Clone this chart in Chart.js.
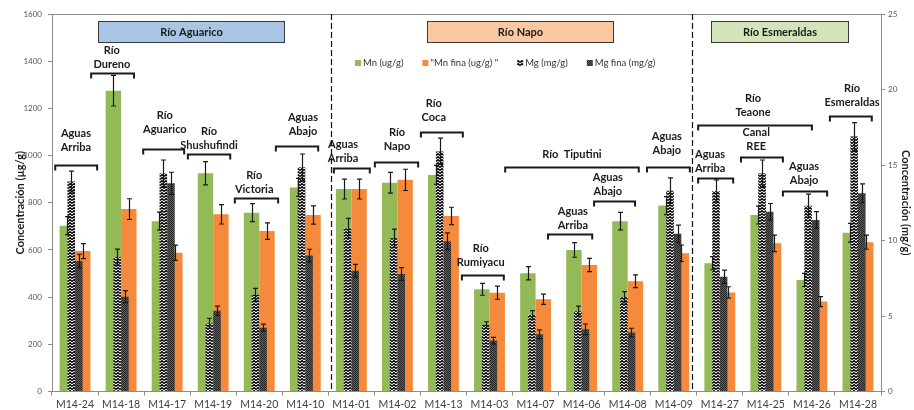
<!DOCTYPE html>
<html>
<head>
<meta charset="utf-8">
<script src="https://cdn.jsdelivr.net/npm/chart.js@4"></script>
<style>
  html, body { margin: 0; padding: 0; background: #fff; }
  #wrap { width: 914px; height: 410px; position: relative; }
</style>
</head>
<body>
<div id="wrap"><canvas id="chart"></canvas></div>
<script>
// Mn / Mg concentrations per sampling point, with error bars

const labels = ["M14-24", "M14-18", "M14-17", "M14-19", "M14-20", "M14-10", "M14-01", "M14-02", "M14-13",
  "M14-03", "M14-07", "M14-06", "M14-08", "M14-09", "M14-27", "M14-25", "M14-26", "M14-28"];

// ug/g (left axis)
const mn         = [703, 1275, 722, 925, 758, 865, 858, 885, 918, 433, 501, 600, 722, 788, 544, 748, 473, 673];
const mnErr      = [38, 65, 38, 49, 38, 38, 42, 44, 40, 25, 28, 31, 37, 38, 28, 38, 28, 40];
const mnFina     = [595, 773, 588, 751, 680, 748, 858, 897, 744, 419, 391, 536, 467, 586, 420, 628, 381, 633];
const mnFinaErr  = [32, 44, 32, 41, 35, 39, 42, 45, 37, 28, 22, 28, 27, 35, 24, 35, 21, 30];

// mg/g (right axis)
const mg         = [13.9, 8.9, 14.45, 4.52, 6.41, 14.85, 10.8, 10.15, 15.9, 4.4, 5.07, 5.33, 6.24, 13.3, 13.28, 14.45, 12.3, 16.88];
const mgErr      = [0.7, 0.53, 0.88, 0.33, 0.42, 0.88, 0.66, 0.6, 0.88, 0.22, 0.29, 0.33, 0.38, 0.85, 0.73, 0.88, 0.77, 0.93];
const mgFina     = [8.64, 6.28, 13.79, 5.35, 4.22, 9.0, 8.0, 7.78, 9.95, 3.37, 3.79, 4.12, 3.9, 10.45, 7.6, 11.9, 11.36, 13.13];
const mgFinaErr  = [0.45, 0.4, 0.73, 0.31, 0.24, 0.42, 0.42, 0.42, 0.55, 0.22, 0.29, 0.35, 0.29, 0.57, 0.44, 0.55, 0.55, 0.62];

const leftTicks = [0, 200, 400, 600, 800, 1000, 1200, 1400, 1600];
const rightTicks = [0, 5, 10, 15, 20, 25];

// ─────────── annotation layout (category index / left-axis units) ───────────
const regions = [
  { text: "Río Aguarico", from: 0.5, to: 4.54, fill: "#a8c5e4" },
  { text: "Río Napo", from: 7.64, to: 11.68, fill: "#fac7a3" },
  { text: "Río Esmeraldas", from: 13.81, to: 16.78, fill: "#d4e4b9" },
];
const separators = [5.56, 13.40];
const brackets = [
  { lines: ["Aguas", "Arriba"], from: -0.43, to: 0.48, y: 960, ty: 1095, tx: 0.02 },
  { lines: ["Río", "Dureno"], from: 0.35, to: 1.28, y: 1350, ty: 1447, tx: 0.8 },
  { lines: ["Río", "Aguarico"], from: 1.48, to: 2.37, y: 1028, ty: 1172, tx: 1.95 },
  { lines: ["Río", "Shushufindi"], from: 2.45, to: 3.37, y: 1006, ty: 1104, tx: 2.91 },
  { lines: ["Río", "Victoria"], from: 3.47, to: 4.41, y: 820, ty: 917, tx: 3.89 },
  { lines: ["Aguas", "Abajo"], from: 4.36, to: 5.28, y: 1040, ty: 1163, tx: 4.95 },
  { lines: ["Aguas", "Arriba"], from: 5.62, to: 6.40, y: 947, ty: 1045, tx: 5.82 },
  { lines: ["Río", "Napo"], from: 6.51, to: 7.45, y: 972, ty: 1096, tx: 6.99 },
  { lines: ["Río", "Coca"], from: 7.51, to: 8.42, y: 1100, ty: 1219, tx: 7.79 },
  { lines: ["Río  Tiputini"], from: 9.34, to: 12.24, y: 951, ty: 1006, tx: 10.79 },
  { lines: ["Aguas", "Abajo"], from: 12.42, to: 13.35, y: 951, ty: 1079, tx: 12.85 },
  { lines: ["Aguas", "Abajo"], from: 11.27, to: 12.16, y: 807, ty: 909, tx: 11.57 },
  { lines: ["Aguas", "Arriba"], from: 10.27, to: 11.23, y: 667, ty: 761, tx: 10.81 },
  { lines: ["Río", "Rumiyacu"], from: 8.40, to: 9.31, y: 494, ty: 608, tx: 8.81 },
  { lines: ["Río", "Teaone"], from: 13.53, to: 16.0, y: 1129, ty: 1244, tx: 14.72 },
  { lines: ["Canal", "REE"], from: 14.46, to: 15.37, y: 993, ty: 1100, tx: 14.79 },
  { lines: ["Aguas", "Arriba"], from: 13.53, to: 14.29, y: 905, ty: 1006, tx: 13.79 },
  { lines: ["Aguas", "Abajo"], from: 15.37, to: 16.33, y: 849, ty: 955, tx: 15.83 },
  { lines: ["Río", "Esmeraldas"], from: 16.39, to: 17.3, y: 1168, ty: 1286, tx: 16.87 },
];

const FONT = "Lato, 'Open Sans', sans-serif";
const GREEN = "#94b957";
const ORANGE = "#f58a3c";

// ─────────── fill patterns ───────────
function zigzag() {
  const c = document.createElement("canvas");
  c.width = 4; c.height = 3;
  const g = c.getContext("2d");
  g.fillStyle = "#fff"; g.fillRect(0, 0, 4, 3);
  g.strokeStyle = "#000"; g.lineWidth = 1.5;
  g.beginPath(); g.moveTo(0, 2.5); g.lineTo(2, 0.7); g.lineTo(4, 2.5); g.stroke();
  return g.createPattern(c, "repeat");
}

function checker() {
  const c = document.createElement("canvas");
  c.width = 2; c.height = 2;
  const g = c.getContext("2d");
  g.fillStyle = "#5e5e5e"; g.fillRect(0, 0, 2, 2);
  g.fillStyle = "#262626"; g.fillRect(0, 0, 1, 1); g.fillRect(1, 1, 1, 1);
  return g.createPattern(c, "repeat");
}

// ─────────── plugins ───────────
const errorBars = {
  id: "errorBars",
  afterDatasetsDraw(chart) {
    const ctx = chart.ctx;
    ctx.save();
    ctx.strokeStyle = "#1a1a1a";
    ctx.lineWidth = 1.2;
    chart.data.datasets.forEach((ds, i) => {
      const meta = chart.getDatasetMeta(i);
      const ys = chart.scales[ds.yAxisID];
      meta.data.forEach((bar, j) => {
        const v = ds.data[j], e = ds.errors[j];
        const x = Math.round(bar.x) + 0.5;
        const y1 = ys.getPixelForValue(v + e), y2 = ys.getPixelForValue(v - e);
        ctx.beginPath();
        ctx.moveTo(x, y1); ctx.lineTo(x, y2);
        ctx.moveTo(x - 2.5, y1); ctx.lineTo(x + 2.5, y1);
        ctx.moveTo(x - 2.5, y2); ctx.lineTo(x + 2.5, y2);
        ctx.stroke();
      });
    });
    ctx.restore();
  },
};

const annotations = {
  id: "annotations",
  afterDatasetsDraw(chart) {
    const { ctx, chartArea } = chart;
    const xs = chart.scales.x, ys = chart.scales.y;
    ctx.save();

    // plot frame top line
    ctx.strokeStyle = "#8c8c8c"; ctx.lineWidth = 1;
    ctx.beginPath();
    ctx.moveTo(chartArea.left, chartArea.top + 0.5); ctx.lineTo(chartArea.right, chartArea.top + 0.5);
    ctx.stroke();

    // dashed separators
    ctx.strokeStyle = "#111"; ctx.lineWidth = 1.2;
    ctx.setLineDash([6, 3]);
    separators.forEach(s => {
      const x = Math.round(xs.getPixelForValue(s)) + 0.5;
      ctx.beginPath(); ctx.moveTo(x, chartArea.top); ctx.lineTo(x, chartArea.bottom); ctx.stroke();
    });
    ctx.setLineDash([]);

    // region boxes
    ctx.textAlign = "center"; ctx.textBaseline = "middle";
    regions.forEach(r => {
      const x1 = Math.round(xs.getPixelForValue(r.from)) + 0.5, x2 = Math.round(xs.getPixelForValue(r.to)) + 0.5;
      const y1 = Math.round(ys.getPixelForValue(1571)) + 0.5, y2 = Math.round(ys.getPixelForValue(1481)) + 0.5;
      ctx.fillStyle = r.fill;
      ctx.fillRect(x1, y1, x2 - x1, y2 - y1);
      ctx.strokeStyle = "#3a3a3a"; ctx.lineWidth = 1;
      ctx.strokeRect(x1, y1, x2 - x1, y2 - y1);
      ctx.fillStyle = "#1a1a1a";
      ctx.font = `bold 11px ${FONT}`;
      ctx.fillText(r.text, (x1 + x2) / 2, (y1 + y2) / 2 + 0.5);
    });

    // brackets + labels
    brackets.forEach(b => {
      const x1 = xs.getPixelForValue(b.from), x2 = xs.getPixelForValue(b.to);
      const y = Math.round(ys.getPixelForValue(b.y)) + 0.5;
      ctx.strokeStyle = "#1a1a1a"; ctx.lineWidth = 2;
      ctx.beginPath();
      ctx.moveTo(x1, y + 5); ctx.lineTo(x1, y); ctx.lineTo(x2, y); ctx.lineTo(x2, y + 5);
      ctx.stroke();
      ctx.fillStyle = "#1a1a1a";
      ctx.font = `bold 11px ${FONT}`;
      const tx = xs.getPixelForValue(b.tx);
      const ty = ys.getPixelForValue(b.ty);
      b.lines.forEach((t, k) => ctx.fillText(t, tx, ty + k * 14));
    });
    ctx.restore();
  },
};

const legendBox = {
  id: "legendBox",
  afterDraw(chart) {
    const ctx = chart.ctx;
    ctx.save();
    ctx.font = `9.5px ${FONT}`;
    ctx.textBaseline = "middle";
    ctx.textAlign = "left";
    let x = chart.chartArea.left + 303;
    const y = 63;
    chart.data.datasets.forEach(ds => {
      ctx.fillStyle = ds.backgroundColor;
      ctx.fillRect(x, y - 3, 6, 6);
      ctx.fillStyle = "#333";
      ctx.fillText(ds.label, x + 8, y);
      x += 8 + ctx.measureText(ds.label).width + 19;
    });
    ctx.restore();
  },
};

// ─────────── chart ───────────
// Mn bars fill the left/right halves of a 0.67 slot; Mg bars sit in a
// narrower 0.33 slot on top of them (stack "L" / "R" = left / right half).
const axisColor = "#8c8c8c";

const chart = new Chart(document.getElementById("chart"), {
  type: "bar",
  data: {
    labels,
    datasets: [
      { label: "Mn (ug/g)", data: mn, errors: mnErr, backgroundColor: GREEN,
        yAxisID: "y", stack: "L", order: 2, categoryPercentage: 0.67, barPercentage: 1 },
      { label: '"Mn fina (ug/g) "', data: mnFina, errors: mnFinaErr, backgroundColor: ORANGE,
        yAxisID: "y", stack: "R", order: 2, categoryPercentage: 0.67, barPercentage: 1 },
      { label: "Mg (mg/g)", data: mg, errors: mgErr, backgroundColor: zigzag(),
        yAxisID: "y2", stack: "L", order: 1, categoryPercentage: 0.33, barPercentage: 1 },
      { label: "Mg fina (mg/g)", data: mgFina, errors: mgFinaErr, backgroundColor: checker(),
        yAxisID: "y2", stack: "R", order: 1, categoryPercentage: 0.33, barPercentage: 1 },
    ],
  },
  options: {
    responsive: true,
    maintainAspectRatio: false,
    animation: false,
    layout: { padding: { top: 14, left: 0, right: 0, bottom: 0 } },
    plugins: {
      legend: { display: false },
      tooltip: { enabled: false },
    },
    scales: {
      x: {
        type: "category",
        stacked: true,
        offset: true,
        grid: { offset: true, drawOnChartArea: false, drawTicks: true, tickLength: 4, color: axisColor },
        border: { display: true, color: axisColor },
        ticks: { color: "#404040", font: { family: FONT, size: 10.5 }, padding: 3, maxRotation: 0, autoSkip: false },
        afterFit: s => { s.height = 18.5; },
      },
      y: {
        position: "left",
        stacked: false,
        min: 0, max: 1600,
        afterBuildTicks: s => { s.ticks = leftTicks.map(v => ({ value: v })); },
        grid: { drawOnChartArea: false, drawTicks: true, tickLength: 4, color: axisColor },
        border: { display: true, color: axisColor },
        ticks: { color: "#555", font: { family: FONT, size: 8 }, padding: 6, callback: v => String(v) },
        title: { display: true, text: "Concentración (µg/g)", color: "#1a1a1a",
                 font: { family: FONT, size: 11, weight: "bold" }, padding: { top: 14, bottom: 0 } },
        afterFit: s => { s.width = 52; },
      },
      y2: {
        position: "right",
        stacked: false,
        min: 0, max: 25,
        afterBuildTicks: s => { s.ticks = rightTicks.map(v => ({ value: v })); },
        grid: { drawOnChartArea: false, drawTicks: true, tickLength: 4, color: axisColor },
        border: { display: true, color: axisColor },
        ticks: { color: "#555", font: { family: FONT, size: 8 }, padding: 3, callback: v => String(v) },
        title: { display: true, text: "Concentración (mg/g)", color: "#1a1a1a",
                 font: { family: FONT, size: 11, weight: "bold" }, padding: { top: 2, bottom: 0 } },
        afterFit: s => { s.width = 33; },
      },
    },
  },
  plugins: [errorBars, annotations, legendBox],
});
</script>
</body>
</html>
